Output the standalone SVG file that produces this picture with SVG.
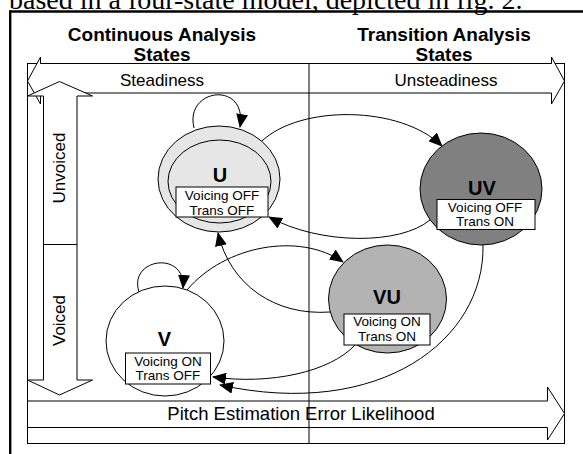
<svg xmlns="http://www.w3.org/2000/svg" width="583" height="454" viewBox="0 0 583 454">
<style>
.ln{fill:none;stroke:#000;stroke-width:1}
.wf{fill:#fff;stroke:#000;stroke-width:1}
.t{font-family:"Liberation Sans",Arial,sans-serif;fill:#000}
.tt{font-family:"Liberation Sans",Arial,sans-serif;font-weight:bold;font-size:19px;text-anchor:middle}
.al{font-size:17px;text-anchor:middle}
.st{font-family:"Liberation Sans",Arial,sans-serif;font-weight:bold;font-size:20px;text-anchor:middle}
.lb{font-family:"Liberation Sans",Arial,sans-serif;font-size:13.5px;text-anchor:middle}
.cn{fill:none;stroke:#000;stroke-width:1;marker-end:url(#ah)}
</style>
<defs>
<marker id="ah" markerWidth="14" markerHeight="12" refX="13" refY="6" orient="auto" markerUnits="userSpaceOnUse"><path d="M0,0 L14,6 L0,12 z" fill="#000"/></marker>
</defs>
<rect width="583" height="454" fill="#fff"/>
<text x="9" y="8.5" font-family="'Liberation Serif','Times New Roman',serif" font-size="28">based in a four-state model, depicted in fig. 2.</text>
<line x1="10.2" y1="11.5" x2="583" y2="11.5" stroke="#000" stroke-width="2.4"/>
<line x1="10.2" y1="10.3" x2="10.2" y2="454" stroke="#000" stroke-width="2.4"/>
<text class="tt" x="162" y="41">Continuous Analysis</text>
<text class="tt" x="162" y="61">States</text>
<text class="tt" x="444" y="41">Transition Analysis</text>
<text class="tt" x="444" y="61">States</text>
<rect x="27.5" y="63.5" width="537" height="380" class="ln"/>
<g id="steadiness">
<polygon class="wf" points="27.5,81 40.5,57 40.5,63.5 551.5,63.5 551.5,57 564.5,81 551.5,104 551.5,93 40.5,93 40.5,104"/>
<text class="t al" x="162" y="85.5">Steadiness</text>
<text class="t al" x="446" y="85.5">Unsteadiness</text>
</g>
<g id="voicing-axis">
<polygon class="wf" points="59.5,81.5 92.5,96 77,96 77,380 92.5,380 59.5,395 27.5,380 43.5,380 43.5,96 27.5,96"/>
<line class="ln" x1="43.5" y1="244.5" x2="77" y2="244.5"/>
<text class="t al" transform="translate(64.5,168) rotate(-90)">Unvoiced</text>
<text class="t al" transform="translate(64.5,320.5) rotate(-90)">Voiced</text>
</g>
<g id="pitch">
<polygon class="wf" points="27.5,401 547.5,401 547.5,387 564.5,413.5 547.5,440 547.5,427.5 27.5,427.5"/>
<text class="t" x="301" y="420" font-size="18.5" text-anchor="middle">Pitch Estimation Error Likelihood</text>
</g>
<line class="ln" x1="309" y1="63.5" x2="309" y2="443.5"/>
<g id="connectors">
<path class="cn" d="M194,128 C184,88 248,80 240,127"/>
<path class="cn" d="M139,292 C128,258 186,250 183,288"/>
<path class="cn" d="M262,141 C300,105 400,105 442,146"/>
<path class="cn" d="M430,220 C400,245 320,245 269,217"/>
<path class="cn" d="M330,312 C275,316 230,285 218,233"/>
<path class="cn" d="M187,290 C225,245 300,232 343,262"/>
<path class="cn" d="M355,345 C330,372 270,385 213,377"/>
<path class="cn" d="M483,245 C485,340 380,420 220,385"/>
</g>
<g id="U">
<ellipse cx="219" cy="179" rx="61" ry="53" fill="#e6e6e6" stroke="#000"/>
<ellipse cx="219.5" cy="181.5" rx="51.5" ry="41.5" fill="#e6e6e6" stroke="#000"/>
<text class="st" x="220" y="182">U</text>
<rect x="176" y="187" width="92" height="30" class="wf"/>
<text class="lb" x="222" y="200">Voicing OFF</text>
<text class="lb" x="222" y="214.5">Trans OFF</text>
</g>
<g id="UV">
<ellipse cx="481" cy="189" rx="61" ry="56" fill="#808080" stroke="#000"/>
<text class="st" x="482" y="195">UV</text>
<rect x="437" y="199.5" width="98" height="30" class="wf"/>
<text class="lb" x="485" y="211.5">Voicing OFF</text>
<text class="lb" x="485" y="226">Trans ON</text>
</g>
<g id="VU">
<ellipse cx="387.5" cy="299" rx="59" ry="54" fill="#b3b3b3" stroke="#000"/>
<text class="st" x="387" y="304">VU</text>
<rect x="344" y="314" width="86" height="31" class="wf"/>
<text class="lb" x="387" y="326">Voicing ON</text>
<text class="lb" x="387" y="340.5">Trans ON</text>
</g>
<g id="V">
<ellipse cx="165" cy="341" rx="59" ry="55" fill="#fff" stroke="#000"/>
<text class="st" x="164.5" y="346">V</text>
<rect x="125.5" y="353" width="85" height="31" class="wf"/>
<text class="lb" x="168" y="365.5">Voicing ON</text>
<text class="lb" x="168" y="380">Trans OFF</text>
</g>
</svg>
